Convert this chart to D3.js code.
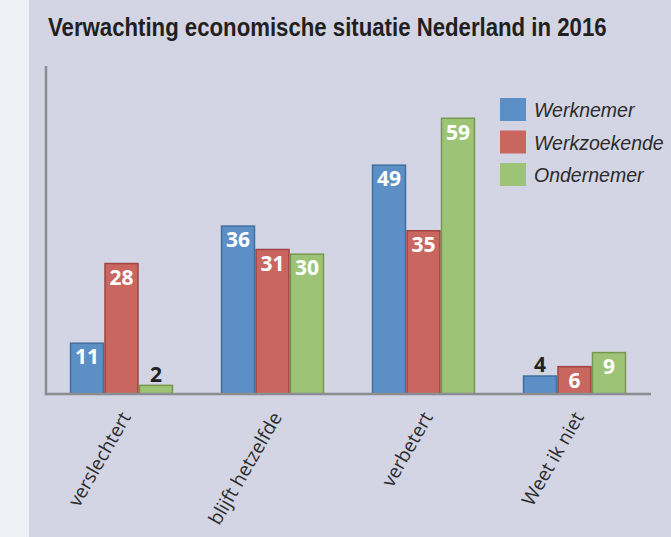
<!DOCTYPE html>
<html>
<head>
<meta charset="utf-8">
<script src="https://cdn.jsdelivr.net/npm/d3@7"></script>
<style>
  html, body { margin: 0; padding: 0; background: #eff0f5; }
  svg { display: block; }
</style>
</head>
<body>
<svg id="chart" width="671" height="537"></svg>
<script>
const title = "Verwachting economische situatie Nederland in 2016";
const categories = ["verslechtert", "blijft hetzelfde", "verbetert", "Weet ik niet"];
const seriesNames = ["Werknemer", "Werkzoekende", "Ondernemer"];
const werknemer = [11, 36, 49, 4];
const werkzoekende = [28, 31, 35, 6];
const ondernemer = [2, 30, 59, 9];
const seriesValues = [werknemer, werkzoekende, ondernemer];
const fills = ["#5b8fc6", "#c9665f", "#9dc476"];
const strokes = ["#41709e", "#9f4541", "#77994f"];

const svg = d3.select("#chart");
const W = 671, H = 537;

// panel background
svg.append("rect").attr("x", 29).attr("y", 0).attr("width", W - 29).attr("height", H).attr("fill", "#d3d5e4");

// title (condensed by horizontal scaling to the reference width)
const titleG = svg.append("g");
const titleText = titleG.append("text")
  .attr("x", 0).attr("y", 0)
  .attr("font-family", "'Liberation Sans Narrow', 'Arial Narrow', 'Liberation Sans', sans-serif")
  .attr("font-weight", "bold")
  .attr("font-size", 25)
  .attr("fill", "#231f20")
  .text(title);
const natural = titleText.node().getComputedTextLength();
const sx = Math.min(1, 559 / natural);
titleG.attr("transform", `translate(48,36) scale(${sx},1)`);

const x0 = d3.scaleBand().domain(categories).range([46, 650]).padding(0);
const groupW = x0.bandwidth() * 0.685;
const x1 = d3.scaleBand().domain(seriesNames).range([0, groupW]).padding(0);
const y = d3.scaleLinear().domain([0, 70]).range([394, 66]);

// bars
const data = [];
categories.forEach((c, ci) => {
  seriesNames.forEach((s, si) => {
    data.push({ cat: c, ser: s, si: si, v: seriesValues[si][ci] });
  });
});

const barX = d => x0(d.cat) + (x0.bandwidth() - groupW) / 2 + x1(d.ser);

svg.append("g").selectAll("rect").data(data).join("rect")
  .attr("x", d => barX(d) + 0.75)
  .attr("y", d => y(d.v) + 0.75)
  .attr("width", x1.bandwidth() - 1.5)
  .attr("height", d => y(0) - y(d.v) - 0.75)
  .attr("fill", d => fills[d.si])
  .attr("stroke", d => strokes[d.si])
  .attr("stroke-width", 1.5);

// value labels
svg.append("g").selectAll("text").data(data).join("text")
  .attr("x", d => barX(d) + x1.bandwidth() / 2)
  .attr("y", d => d.v < 5 ? y(d.v) - 3 : y(d.v) + 22)
  .attr("text-anchor", "middle")
  .attr("font-family", "'Open Sans', 'DejaVu Sans', sans-serif")
  .attr("font-weight", "bold")
  .attr("font-size", 21)
  .attr("fill", d => d.v < 5 ? "#222222" : "#ffffff")
  .text(d => d.v);

// axes
const axisColor = "#8b8d90";
svg.append("line").attr("x1", 46).attr("x2", 46).attr("y1", y(70)).attr("y2", y(0) + 1.25)
  .attr("stroke", axisColor).attr("stroke-width", 2.5);
svg.append("line").attr("x1", 44.75).attr("x2", 651).attr("y1", y(0)).attr("y2", y(0))
  .attr("stroke", axisColor).attr("stroke-width", 2.5);

// category labels
svg.append("g").selectAll("text").data(categories).join("text")
  .attr("transform", d => `translate(${x0(d) + x0.bandwidth() / 2 + 10},417) rotate(-60)`)
  .attr("text-anchor", "end")
  .attr("font-family", "'Open Sans', 'Noto Sans', sans-serif")
  .attr("font-size", 19)
  .attr("fill", "#2b2b2b")
  .text(d => d);

// legend
const leg = svg.append("g");
seriesNames.forEach((s, i) => {
  const ly = 98 + i * 32.5;
  leg.append("rect").attr("x", 500).attr("y", ly).attr("width", 26).attr("height", 23).attr("fill", fills[i]);
  leg.append("text").attr("x", 534).attr("y", ly + 19)
    .attr("font-family", "'Liberation Sans', Arial, sans-serif")
    .attr("font-style", "italic")
    .attr("font-size", 19.5)
    .attr("fill", "#2b2b2b")
    .text(s);
});
</script>
</body>
</html>
